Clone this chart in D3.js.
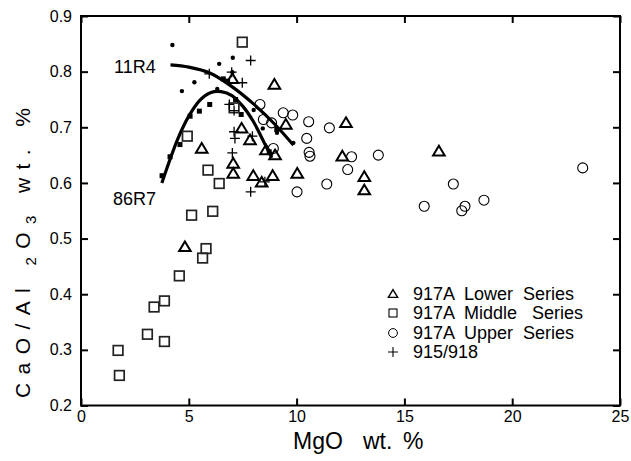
<!DOCTYPE html>
<html>
<head>
<meta charset="utf-8">
<script src="https://cdn.jsdelivr.net/npm/d3@7"></script>
<style>
  html, body { margin: 0; padding: 0; background: #fff; }
  svg { display: block; font-family: "Liberation Sans", Arial, Helvetica, sans-serif; }
</style>
</head>
<body>
<svg id="chart" width="631" height="461"></svg>
<script>
// ---------- data ----------
const xTicks = [0, 5, 10, 15, 20, 25];
const yTicks = [0.2, 0.3, 0.4, 0.5, 0.6, 0.7, 0.8, 0.9];
const yTickLabels = ["0.2", "0.3", "0.4", "0.5", "0.6", "0.7", "0.8", "0.9"];

// 917A Lower Series (triangles)
const lowerX = [8.97, 7.02, 7.45, 7.84, 5.60, 7.06, 7.06, 7.99, 8.38, 8.89, 8.58, 9.00, 12.29, 12.12, 13.14, 13.14, 10.03, 16.60, 9.50, 4.82];
const lowerY = [0.777, 0.787, 0.698, 0.677, 0.662, 0.635, 0.617, 0.613, 0.601, 0.613, 0.659, 0.650, 0.708, 0.648, 0.611, 0.587, 0.617, 0.657, 0.705, 0.485];

// 917A Middle Series (open squares)
const middleX = [7.48, 4.93, 5.89, 6.41, 5.13, 6.11, 5.80, 5.64, 4.56, 3.87, 3.39, 3.08, 3.87, 1.72, 1.78, 7.10];
const middleY = [0.853, 0.684, 0.623, 0.599, 0.542, 0.549, 0.482, 0.465, 0.433, 0.388, 0.377, 0.328, 0.315, 0.299, 0.254, 0.735];

// 917A Upper Series (open circles)
const upperX = [8.30, 9.38, 9.82, 8.46, 8.84, 10.56, 11.52, 10.47, 8.92, 10.58, 10.62, 12.55, 13.79, 12.37, 11.40, 10.02, 17.27, 15.92, 23.27, 17.81, 17.66, 18.69];
const upperY = [0.741, 0.726, 0.722, 0.714, 0.708, 0.710, 0.699, 0.680, 0.662, 0.655, 0.648, 0.647, 0.650, 0.624, 0.598, 0.584, 0.598, 0.558, 0.627, 0.558, 0.550, 0.569];

// 915/918 (crosses)
const siteX = [7.87, 5.95, 6.99, 7.48, 6.88, 7.10, 7.10, 7.14, 7.95, 7.02, 7.87, 8.53];
const siteY = [0.820, 0.796, 0.799, 0.780, 0.741, 0.730, 0.692, 0.680, 0.684, 0.654, 0.584, 0.602];

// 11R4 glass data (small dots)
const r11R4X = [4.24, 6.41, 7.04, 7.02, 5.26, 4.68, 6.32, 8.01, 8.43, 9.09, 9.85];
const r11R4Y = [0.848, 0.814, 0.825, 0.799, 0.781, 0.765, 0.769, 0.731, 0.698, 0.690, 0.672];

// 86R7 glass data (small filled squares)
const r86R7X = [3.76, 4.13, 4.59, 5.06, 5.49, 5.97, 6.60, 6.80, 7.43, 7.17, 8.73, 9.08];
const r86R7Y = [0.613, 0.647, 0.669, 0.720, 0.729, 0.741, 0.787, 0.783, 0.723, 0.750, 0.656, 0.696];

// trend curves
const curve11R4X = [4.15, 5.0, 6.0, 7.0, 8.0, 9.0, 9.85];
const curve11R4Y = [0.812, 0.808, 0.797, 0.773, 0.742, 0.705, 0.668];
const curve86R7X = [3.75, 4.5, 5.0, 5.5, 6.0, 6.5, 7.0, 7.5, 8.0, 8.5, 8.85];
const curve86R7Y = [0.600, 0.680, 0.720, 0.748, 0.762, 0.764, 0.757, 0.738, 0.710, 0.672, 0.645];

const legendLabels = ["917A  Lower  Series", "917A  Middle   Series", "917A  Upper  Series", "915/918"];

// ---------- layout ----------
const svg = d3.select("#chart");
const margin = { left: 81, top: 16, right: 11, bottom: 55.5 };
const W = 631, H = 461;
const iw = W - margin.left - margin.right;
const ih = H - margin.top - margin.bottom;

const x = d3.scaleLinear().domain([0, 25]).range([margin.left, margin.left + iw]);
const y = d3.scaleLinear().domain([0.2, 0.9]).range([margin.top + ih, margin.top]);

const zip = (a, b) => a.map((v, i) => [v, b[i]]);

// ---------- axes ----------
const axB = svg.append("g").attr("transform", `translate(0,${margin.top + ih})`)
  .call(d3.axisBottom(x).tickValues(xTicks).tickSize(-7).tickPadding(5).tickFormat(d3.format("d")));
const axL = svg.append("g").attr("transform", `translate(${margin.left},0)`)
  .call(d3.axisLeft(y).tickValues(yTicks).tickSize(-7).tickPadding(9).tickFormat((d, i) => yTickLabels[i]));
const axT = svg.append("g").attr("transform", `translate(0,${margin.top})`)
  .call(d3.axisTop(x).tickValues(xTicks).tickSize(-7).tickFormat(""));
const axR = svg.append("g").attr("transform", `translate(${margin.left + iw},0)`)
  .call(d3.axisRight(y).tickValues(yTicks).tickSize(-7).tickFormat(""));

[axB, axL, axT, axR].forEach(g => {
  g.select(".domain").remove();
  g.selectAll(".tick line").attr("stroke", "#000").attr("stroke-width", 2);
  g.selectAll(".tick text").attr("fill", "#000").attr("font-size", 16)
    .attr("font-family", "'Liberation Sans', Arial, sans-serif");
});

svg.append("rect")
  .attr("x", margin.left).attr("y", margin.top).attr("width", iw).attr("height", ih)
  .attr("fill", "none").attr("stroke", "#000").attr("stroke-width", 2);

// ---------- axis titles ----------
const xt = svg.append("g").attr("font-size", 23);
xt.append("text").attr("x", 293).attr("y", 449).text("MgO");
xt.append("text").attr("x", 363).attr("y", 449).text("wt.");
xt.append("text").attr("x", 403).attr("y", 449).text("%");

const yt = svg.append("text")
  .attr("transform", "translate(30,398) rotate(-90)")
  .attr("font-size", 21)
  .attr("textLength", 290).attr("lengthAdjust", "spacing");
yt.append("tspan").text("CaO/Al ");
yt.append("tspan").attr("font-size", 15).attr("dy", 6).text("2");
yt.append("tspan").attr("dy", -6).text("O");
yt.append("tspan").attr("font-size", 15).attr("dy", 6).text("3");
yt.append("tspan").attr("dy", -6).text(" wt. %");

// ---------- curves ----------
svg.append("path").datum(zip(curve11R4X, curve11R4Y))
  .attr("d", d3.line().x(d => x(d[0])).y(d => y(d[1])).curve(d3.curveMonotoneX))
  .attr("fill", "none").attr("stroke", "#000").attr("stroke-width", 3.2);
svg.append("path").datum(zip(curve86R7X, curve86R7Y))
  .attr("d", d3.line().x(d => x(d[0])).y(d => y(d[1])).curve(d3.curveCatmullRom))
  .attr("fill", "none").attr("stroke", "#000").attr("stroke-width", 3.2);

svg.append("text").attr("x", 114).attr("y", 73).attr("font-size", 18).text("11R4");
svg.append("text").attr("x", 113).attr("y", 205).attr("font-size", 18).text("86R7");

// ---------- markers ----------
const triPath = (s) => `M0,${-s * 0.55}L${s * 0.58},${s * 0.42}L${-s * 0.58},${s * 0.42}Z`;
const crossPath = (s) => `M${-s / 2},0H${s / 2}M0,${-s / 2}V${s / 2}`;

svg.append("g").selectAll("circle").data(zip(r11R4X, r11R4Y)).join("circle")
  .attr("cx", d => x(d[0])).attr("cy", d => y(d[1])).attr("r", 2.2).attr("fill", "#000");
svg.append("g").selectAll("rect").data(zip(r86R7X, r86R7Y)).join("rect")
  .attr("x", d => x(d[0]) - 2.5).attr("y", d => y(d[1]) - 2.5).attr("width", 5).attr("height", 5).attr("fill", "#000");

svg.append("g").selectAll("rect").data(zip(middleX, middleY)).join("rect")
  .attr("x", d => x(d[0]) - 4.8).attr("y", d => y(d[1]) - 4.8).attr("width", 9.6).attr("height", 9.6)
  .attr("fill", "none").attr("stroke", "#222").attr("stroke-width", 1.7);
svg.append("g").selectAll("circle").data(zip(upperX, upperY)).join("circle")
  .attr("cx", d => x(d[0])).attr("cy", d => y(d[1])).attr("r", 5)
  .attr("fill", "none").attr("stroke", "#000").attr("stroke-width", 1.1);
svg.append("g").selectAll("path").data(zip(lowerX, lowerY)).join("path")
  .attr("transform", d => `translate(${x(d[0])},${y(d[1])})`).attr("d", triPath(10))
  .attr("fill", "none").attr("stroke", "#000").attr("stroke-width", 2);
svg.append("g").selectAll("path").data(zip(siteX, siteY)).join("path")
  .attr("transform", d => `translate(${x(d[0])},${y(d[1])})`).attr("d", crossPath(10))
  .attr("fill", "none").attr("stroke", "#000").attr("stroke-width", 1.3);

// ---------- legend ----------
const legY = [294, 313, 333, 352];
const lg = svg.append("g");
lg.append("path").attr("transform", `translate(393,${legY[0]})`).attr("d", triPath(8))
  .attr("fill", "none").attr("stroke", "#000").attr("stroke-width", 1.4);
lg.append("rect").attr("x", 389).attr("y", legY[1] - 4).attr("width", 8).attr("height", 8)
  .attr("fill", "none").attr("stroke", "#000").attr("stroke-width", 1.1);
lg.append("circle").attr("cx", 393).attr("cy", legY[2]).attr("r", 4.4)
  .attr("fill", "none").attr("stroke", "#000").attr("stroke-width", 1);
lg.append("path").attr("transform", `translate(393,${legY[3]})`).attr("d", crossPath(10))
  .attr("fill", "none").attr("stroke", "#000").attr("stroke-width", 1.1);
legendLabels.forEach((t, i) => {
  lg.append("text").attr("x", 413).attr("y", legY[i] + 6).attr("font-size", 18)
    .attr("xml:space", "preserve").style("white-space", "pre").text(t);
});
</script>
</body>
</html>
